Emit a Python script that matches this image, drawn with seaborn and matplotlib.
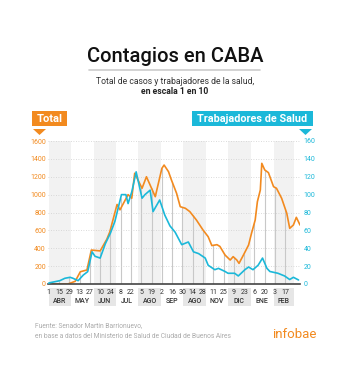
import matplotlib
matplotlib.use("Agg")
import matplotlib.pyplot as plt
import matplotlib.transforms as mtransforms
from matplotlib.patches import Rectangle, Polygon
from matplotlib.lines import Line2D
import seaborn as sns
import numpy as np
import pandas as pd

# Datos (días desde el 1 de abril de 2020)
dias_total = [2, 26, 36, 43, 52, 58, 70, 79, 83, 93, 97, 108, 113, 117, 127, 133,
              145, 154, 157, 163, 167, 174, 179, 186, 192, 201, 210, 217, 222, 229,
              233, 240, 247, 251, 256, 259, 265, 272, 276, 281, 284, 288, 290, 294,
              299, 306, 310, 317, 324, 328, 333, 337, 342]
total = [0, 0, 30, 137, 157, 380, 370, 500, 580, 890, 830, 1000, 960, 1239, 1071, 1200,
         977, 1294, 1331, 1257, 1164, 1015, 865, 847, 810, 716, 604, 529, 430, 440,
         420, 324, 268, 306, 268, 231, 324, 436, 567, 716, 921, 1052, 1350, 1276,
         1246, 1089, 1071, 959, 791, 623, 660, 746, 660]

dias_trab = [0, 2, 15, 22, 29, 33, 40, 47, 53, 59, 63, 70, 77, 84, 90, 99, 105, 108,
             113, 119, 127, 131, 138, 142, 151, 158, 165, 172, 181, 190, 197, 204,
             213, 217, 226, 231, 240, 244, 253, 258, 267, 272, 278, 285, 291, 297,
             301, 312, 321, 328, 333, 340]
trabajadores = [1, 1.5, 3.7, 6.4, 7.5, 6.4, 3.7, 10, 13.8, 36, 31, 29, 45, 57, 70, 100,
                100, 90, 103, 125.5, 96, 100, 105, 81, 94, 77, 65, 58, 44, 47, 36, 34,
                29, 21, 16, 17.5, 14, 12, 12, 9, 16, 19, 16, 21, 29, 17.5, 14, 12, 9,
                5, 7.5, 4.5]

inicio = pd.Timestamp("2020-04-01")
fechas_ticks = pd.date_range(inicio, periods=24, freq="14D")
dias_ticks = [(f - inicio).days for f in fechas_ticks]
etiquetas_ticks = [str(f.day) for f in fechas_ticks]

meses = ["ABR", "MAY", "JUN", "JUL", "AGO", "SEP", "AGO", "NOV", "DIC", "ENE", "FEB"]
inicio_meses = [(m - inicio).days for m in pd.date_range(inicio, periods=12, freq="MS")]

naranja = "#F28A1F"
celeste = "#1BB8D9"

sns.set_style("white")
plt.rcParams["font.family"] = ["Roboto", "DejaVu Sans"]

W, H = 350, 372
fig = plt.figure(figsize=(W / 100, H / 100), dpi=100)
fig.patch.set_facecolor("white")

def fx(px):
    return px / W

def fy(py):
    return 1 - py / H

# Títulos
fig.text(fx(175), fy(56), "Contagios en CABA", ha="center", va="center",
         fontsize=14.5, color="#111111", fontweight="medium")
fig.add_artist(Line2D([fx(89), fx(260)], [fy(70), fy(70)], color="#cccccc", lw=1.2))
fig.text(fx(175), fy(81.5), "Total de casos y trabajadores de la salud,", ha="center",
         va="center", fontsize=6.2, color="#333333")
fig.text(fx(175), fy(92), "en escala 1 en 10", ha="center", va="center",
         fontsize=6.2, color="#222222", fontweight="bold")

# Etiquetas de los ejes
fig.add_artist(Rectangle((fx(32), fy(126)), fx(35), 15 / H, transform=fig.transFigure,
                         color=naranja, lw=0))
fig.add_artist(Polygon([[fx(33), fy(129)], [fx(46), fy(129)], [fx(39.5), fy(135)]],
                       closed=True, transform=fig.transFigure, color=naranja, lw=0))
fig.text(fx(49.5), fy(118.5), "Total", ha="center", va="center", fontsize=8,
         color="white", fontweight="bold")
fig.add_artist(Rectangle((fx(192), fy(126)), fx(121), 15 / H, transform=fig.transFigure,
                         color=celeste, lw=0))
fig.add_artist(Polygon([[fx(299), fy(129)], [fx(312), fy(129)], [fx(305.5), fy(135)]],
                       closed=True, transform=fig.transFigure, color=celeste, lw=0))
fig.text(fx(252.5), fy(118.5), "Trabajadores de Salud", ha="center", va="center",
         fontsize=7.8, color="white", fontweight="bold")

# Área del gráfico
ax = fig.add_axes([fx(48), fy(284), 252 / W, 143 / H])
ax.set_facecolor("white")
ax.set_xlim(-1, 342)
ax.set_ylim(0, 1600)

trans = mtransforms.blended_transform_factory(ax.transData, ax.transAxes)
for i, nombre in enumerate(meses):
    a, b = inicio_meses[i], inicio_meses[i + 1]
    if i % 2 == 0:
        ax.axvspan(a, b, color="#f2f2f2", lw=0, zorder=0)
        ax.add_patch(Rectangle((a, -0.155), b - a, 0.125, transform=trans,
                               color="#e6e6e6", lw=0, clip_on=False, zorder=0.2))
    ax.text((a + b) / 2, -0.12, nombre, transform=trans, ha="center", va="center",
            fontsize=5, color="#333333", fontweight="medium")

# líneas verticales hasta la curva
alto = np.maximum(np.interp(dias_ticks, dias_total, total),
                  np.interp(dias_ticks, dias_trab, trabajadores) * 10)
ax.vlines(dias_ticks, 0, alto, color="#c8c8c8", lw=0.8, zorder=1)

sns.lineplot(x=dias_total, y=total, ax=ax, color=naranja, lw=1.2, zorder=3)

ax.set_yticks(range(0, 1601, 200))
ax.yaxis.grid(True, linestyle=(0, (1, 2)), color="#cfcfcf", lw=0.6)
ax.xaxis.grid(False)
ax.set_axisbelow("line")
ax.set_xticks(dias_ticks)
ax.set_xticklabels(etiquetas_ticks)
ax.tick_params(axis="x", length=0, labelsize=5, pad=3.5, colors="#333333")
ax.tick_params(axis="y", length=0, labelsize=5, pad=1.5, colors=naranja)
ax.set_xlabel("")
ax.set_ylabel("")
for s in ["top", "left", "right"]:
    ax.spines[s].set_visible(False)
ax.spines["bottom"].set_color("#444444")
ax.spines["bottom"].set_linewidth(1.2)
ax.spines["bottom"].set_zorder(4)

ax2 = ax.twinx()
sns.lineplot(x=dias_trab, y=trabajadores, ax=ax2, color=celeste, lw=1.2)
ax2.set_ylim(0, 160)
ax2.set_yticks(range(0, 161, 20))
ax2.tick_params(axis="y", length=0, labelsize=5, pad=2.5, colors=celeste)
ax2.set_ylabel("")
for s in ["top", "left", "right", "bottom"]:
    ax2.spines[s].set_visible(False)

# Fuente
fig.text(fx(35), fy(326), "Fuente: Senador Martín Barrionuevo,", ha="left", va="center",
         fontsize=4.8, color="#aaaaaa")
fig.text(fx(35), fy(336), "en base a datos del Ministerio de Salud de Ciudad de Buenos Aires",
         ha="left", va="center", fontsize=4.8, color="#aaaaaa")
fig.text(fx(294.5), fy(335), "infobae", ha="center", va="center", fontsize=9.5,
         color=naranja)

fig.savefig("out.png", dpi=100)
